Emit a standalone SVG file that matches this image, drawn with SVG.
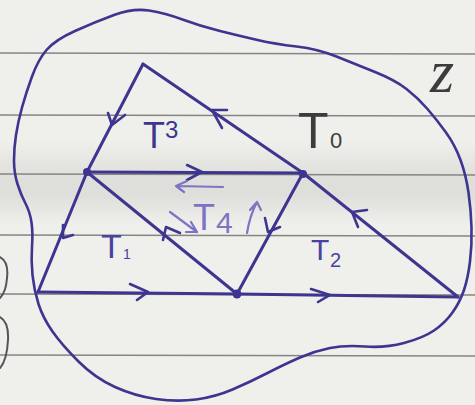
<svg xmlns="http://www.w3.org/2000/svg" width="475" height="405" viewBox="0 0 475 405">
  <defs>
    <linearGradient id="shade" x1="0" y1="0" x2="0" y2="1">
      <stop offset="0" stop-color="#000" stop-opacity="0"/>
      <stop offset="0.45" stop-color="#000" stop-opacity="0.07"/>
      <stop offset="0.65" stop-color="#000" stop-opacity="0.07"/>
      <stop offset="1" stop-color="#000" stop-opacity="0"/>
    </linearGradient>
    <style>
      .rule { stroke: #858583; stroke-width: 1.3; fill: none; }
      .pencil { stroke: #555; stroke-width: 2; fill: none; stroke-linecap: round; }
      .ink { stroke: #3d3590; stroke-width: 3; fill: none; stroke-linecap: round; stroke-linejoin: round; }
      .blob { stroke: #3d3590; stroke-width: 2.6; fill: none; }
      .chev { stroke: #3d3590; stroke-width: 2.6; fill: none; stroke-linecap: round; stroke-linejoin: round; }
      .light { stroke: #7d74c4; stroke-width: 2.2; fill: none; stroke-linecap: round; stroke-linejoin: round; }
      .dot { fill: #3d3590; }
      .lbl { font-family: "Liberation Sans", Arial, sans-serif; }
      .dark { fill: #3c3c3c; }
      .blue { fill: #3d3590; }
      .blue2 { fill: #4a42a0; }
      .lt { fill: #7d74c4; }
    </style>
  </defs>

  <g id="paper">
    <rect x="0" y="0" width="475" height="405" fill="#efefeb"/>
    <rect x="0" y="140" width="475" height="85" fill="url(#shade)"/>
    <line class="rule" x1="0" y1="53" x2="475" y2="54"/>
    <line class="rule" x1="0" y1="115" x2="475" y2="116"/>
    <line class="rule" x1="0" y1="174" x2="475" y2="175"/>
    <line class="rule" x1="0" y1="235" x2="475" y2="236"/>
    <line class="rule" x1="0" y1="294" x2="475" y2="295"/>
    <line class="rule" x1="0" y1="355" x2="475" y2="356"/>
    <path class="pencil" d="M0,257 Q9,262 7,278 Q6,292 0,298"/>
    <path class="pencil" d="M0,317 Q9,322 8,340 Q7,360 0,368"/>
  </g>

  <g id="region-outline">
    <path class="blob" d="M149,10.5 Q165,13 182.5,19.5 Q200,26 220,31 Q240,36 257.5,40 Q275,44 296.5,46.5 Q318,49 336.5,56.5 Q355,64 375,72 Q395,80 406.5,89 Q418,98 427.5,109 Q437,120 446,132.5 Q455,145 460.5,160 Q466,175 468.5,192.5 Q471,210 471.5,227.5 Q472,245 470,261.5 Q468,278 464,290 Q460,302 452.5,312.5 Q445,323 434,330.5 Q423,338 404,343 Q385,348 365,346.5 Q345,345 330,348 Q315,351 300,357.5 Q285,364 267.5,373 Q250,382 232.5,389.5 Q215,397 196,399.5 Q177,402 156,399 Q135,396 115,387 Q95,378 78.5,361.5 Q62,345 52.5,331.5 Q43,318 38.5,304 Q34,290 32.5,275 Q31,260 32,246.5 Q33,233 31.5,222.5 Q30,212 25.5,203.5 Q21,195 17.5,184 Q14,173 14,160.5 Q14,148 16,135 Q18,122 22,107.5 Q26,93 32,76.5 Q38,60 46.5,50 Q55,40 75,31 Q95,22 114,15 Q133,8 149,10.5 Z"/>
  </g>

  <g id="connectors">
    <path class="ink" d="M143,64 L87,172 L38,292"/>
    <path class="ink" d="M143,64 L303,173 L458,297"/>
    <path class="ink" d="M87,172 L303,173"/>
    <path class="ink" d="M87,172 L237,294"/>
    <path class="ink" d="M303,173 L237,294"/>
    <path class="ink" d="M38,292 L237,294 L458,297"/>
    <path class="chev" d="M108,113 L112,125 L125,115"/>
    <path class="chev" d="M227,110 L212,110 L222,128"/>
    <path class="chev" d="M367,210 L352,212 L358,227"/>
    <path class="chev" d="M187,165 L202,172 L187,180"/>
    <path class="chev" d="M265,218 L268,232 L280,227"/>
    <path class="chev" d="M163,240 L166,227 L180,233"/>
    <path class="chev" d="M63,225 L63,238 L73,235"/>
    <path class="chev" d="M130,284 L148,292 L137,300"/>
    <path class="chev" d="M311,289 L330,295 L318,302"/>
    <path class="light" d="M223,187 L176,186 M187,181 L176,186 L184,192"/>
    <path class="light" d="M170,212 L197,232 M191,222 L197,232 L186,232"/>
    <path class="light" d="M247,233 Q250,215 257,202 M250,210 L257,202 L261,210"/>
  </g>

  <g id="vertices">
    <circle class="dot" cx="87" cy="172" r="4"/>
    <circle class="dot" cx="303" cy="174" r="4"/>
    <circle class="dot" cx="237" cy="294" r="4.5"/>
  </g>

  <g id="T3"><text class="lbl blue" x="143" y="148" font-size="36">T<tspan font-size="24" dy="-10">3</tspan></text></g>
  <g id="T0"><text class="lbl dark" x="298" y="148" font-size="50">T</text><text class="lbl dark" x="330" y="148" font-size="22">0</text></g>
  <g id="T1"><text class="lbl blue2" x="101" y="258" font-size="34">T</text><text class="lbl blue2" x="123" y="259" font-size="14">1</text></g>
  <g id="T2"><text class="lbl blue2" x="311" y="260" font-size="30">T</text><text class="lbl blue2" x="330" y="267" font-size="20">2</text></g>
  <g id="T4"><text class="lbl lt" x="193" y="230" font-size="36">T</text><text class="lbl lt" x="216" y="233" font-size="30">4</text></g>
  <g id="tau"><text class="dark" x="430" y="92" font-size="62" font-family="'Liberation Serif', serif" font-style="italic">z</text></g>
</svg>
